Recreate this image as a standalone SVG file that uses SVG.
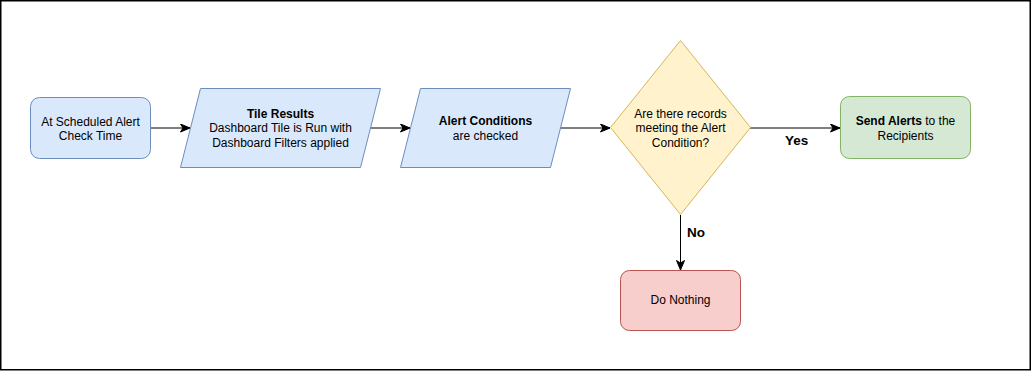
<svg xmlns="http://www.w3.org/2000/svg" width="1031" height="371" viewBox="0 0 1031 371">
<defs>
<marker id="arr" markerUnits="userSpaceOnUse" markerWidth="11" markerHeight="9" refX="10" refY="4.5" orient="auto">
<path d="M0.5,0.5 L10,4.5 L0.5,8.5 L3,4.5 z" fill="#000" stroke="#000" stroke-width="1"/>
</marker>
<style>
text{font-family:"Liberation Sans",Arial,Helvetica,sans-serif;font-size:12px;fill:#000;text-anchor:middle}
.b{font-weight:bold}
.lbl{font-weight:bold;font-size:13.5px;text-anchor:start}
.edge{fill:none;stroke:#000;stroke-width:1}
.blue{fill:#dae8fc;stroke:#6c8ebf;stroke-width:1}
</style>
</defs>
<rect x="0.75" y="0.75" width="1029.5" height="369" fill="#fff" stroke="#000" stroke-width="1.5"/>
<g id="connectors">
<path class="edge" d="M150,128 L190,128" marker-end="url(#arr)"/>
<path class="edge" d="M370,128 L410,128" marker-end="url(#arr)"/>
<path class="edge" d="M560,128 L610,128" marker-end="url(#arr)"/>
<path class="edge" d="M750,128 L840,128" marker-end="url(#arr)"/>
<path class="edge" d="M680.5,215 L680.5,270" marker-end="url(#arr)"/>
<text class="lbl" x="785" y="145">Yes</text>
<text class="lbl" x="687" y="237">No</text>
</g>
<g id="start">
<rect class="blue" x="30.5" y="97.5" width="120" height="61" rx="9"/>
<text x="90.5" y="125.5">At Scheduled Alert</text>
<text x="90.5" y="139.5">Check Time</text>
</g>
<g id="tile-results">
<polygon class="blue" points="200.5,88.5 380.5,88.5 360.5,167.5 180.5,167.5"/>
<text class="b" x="280.5" y="117.5">Tile Results</text>
<text x="280.5" y="132">Dashboard Tile is Run with</text>
<text x="280.5" y="146.5">Dashboard Filters applied</text>
</g>
<g id="alert-conditions">
<polygon class="blue" points="420.5,88.5 570.5,88.5 550.5,167.5 400.5,167.5"/>
<text class="b" x="485.5" y="125">Alert Conditions</text>
<text x="485.5" y="140">are checked</text>
</g>
<g id="decision">
<polygon points="680.5,40.5 750.5,127.5 680.5,214.5 610.5,127.5" fill="#fff2cc" stroke="#d6b656" stroke-width="1"/>
<text x="680.5" y="117.5">Are there records</text>
<text x="680.5" y="132">meeting the Alert</text>
<text x="680.5" y="146.5">Condition?</text>
</g>
<g id="send-alerts">
<rect x="840.5" y="96.5" width="130" height="62" rx="9" fill="#d5e8d4" stroke="#82b366" stroke-width="1"/>
<text x="905.5" y="125"><tspan class="b">Send Alerts</tspan> to the</text>
<text x="905.5" y="140">Recipients</text>
</g>
<g id="do-nothing">
<rect x="620.5" y="270.5" width="120" height="60" rx="9" fill="#f8cecc" stroke="#b85450" stroke-width="1"/>
<text x="680.5" y="303.5">Do Nothing</text>
</g>
</svg>
